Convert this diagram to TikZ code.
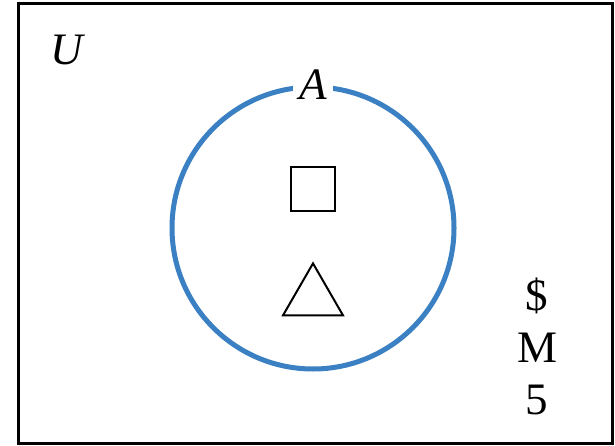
\documentclass[tikz,border=0pt]{standalone}
\usepackage{fontspec}
\setmainfont{Liberation Serif}
\usetikzlibrary{shapes.geometric}

\definecolor{setblue}{RGB}{58,128,194}

\begin{document}
\begin{tikzpicture}[
        x=0.5pt, y=0.5pt,
        % Define styles
        labeltext/.style={font=\fontsize{22.5}{27}\selectfont, inner sep=1pt},
        setcircle/.style={circle, draw=setblue, line width=2.5pt, minimum size=141pt, inner sep=0pt},
        symbol/.style={draw=black, line width=1pt, inner sep=0pt}
    ]
    \useasboundingbox (0,0) rectangle (615,445);

    % Universe box
    \draw[line width=1.5pt] (18,2) rectangle (612,441);
    \node (U) [labeltext] at (68,395) {\textit{U}};

    % Set A
    \node (setA) [setcircle] at (313,217) {};
    \node (A) [labeltext, fill=white, inner xsep=3pt] at (setA.north) {\textit{A}};

    % Elements inside A
    \node (square) [symbol, rectangle, minimum size=22pt] at (313,256) {};
    \node (triangle) [symbol, regular polygon, regular polygon sides=3, minimum size=34.6pt] at (313,147) {};

    % Elements outside A
    \node (dollar) [labeltext] at (537,149) {\$};
    \node (em) [labeltext] at (537,97) {M};
    \node (five) [labeltext] at (537,45) {5};

\end{tikzpicture}
\end{document}
